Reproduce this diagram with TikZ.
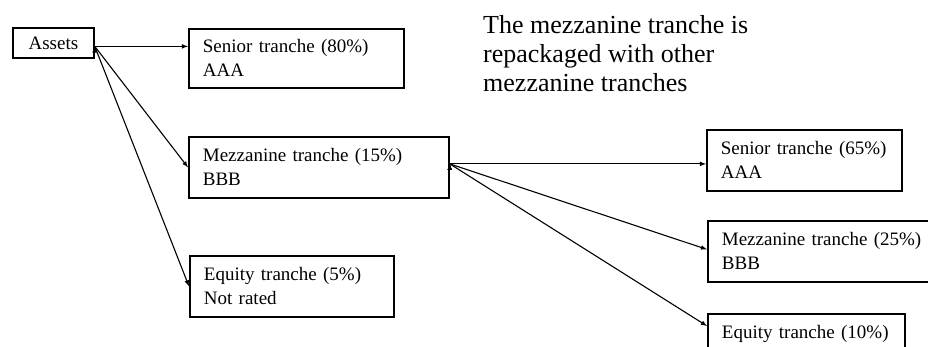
\documentclass[tikz,border=0pt]{standalone}
\usepackage{fontspec}
\setmainfont{Liberation Serif}

\begin{document}
\begin{tikzpicture}[x=1pt, y=-1pt,
    tranche/.style={draw, line width=1.8pt, anchor=north west, align=left, inner xsep=14pt,
        minimum height=61pt, font=\fontsize{19}{24}\selectfont},
    arr/.style={-latex, line width=1.1pt}]
	\useasboundingbox (0,0) rectangle (928,347);
	\clip (0,0) rectangle (928,347);
	%left side: the first deal
    \node[tranche, minimum height=30pt, inner xsep=0pt, minimum width=81pt, align=center] (assets) at (12,27) {Assets};
    \node[tranche, minimum height=59pt, text width=187pt] (senior) at (188,28) {Senior tranche (80\%)\\AAA};
    \node[tranche, text width=232pt] (mezz) at (188,136) {Mezzanine tranche (15\%)\\BBB};
    \node[tranche, text width=176pt] (equity) at (189,255) {Equity tranche (5\%)\\Not rated};
    %right side: the mezzanine tranche repackaged
    \node[tranche, text width=167pt] (senior2) at (706,129) {Senior tranche (65\%)\\AAA};
    \node[tranche, text width=212pt] (mezz2) at (707,220) {Mezzanine tranche (25\%)\\BBB};
    \node[tranche, text width=169pt] (equity2) at (707,313) {Equity tranche (10\%)\\\mbox{}};
    \node[anchor=north west, align=left, inner sep=0pt, font=\fontsize{26}{29}\selectfont] (note) at (483,15)
        {The mezzanine tranche is\\repackaged with other\\mezzanine tranches};
    \coordinate (a0) at ([yshift=-3.5pt]assets.east);
    \coordinate (m0) at ([yshift=3.5pt]mezz.east);
    \coordinate (e2) at ([yshift=-13pt]equity2.north west);
	\draw[arr] (a0) edge (a0 -| senior.west);
	\draw[arr] (a0) edge (mezz.west);
	\draw[arr] (a0) edge (equity.west);
	\draw[arr] (m0) edge (m0 -| senior2.west);
	\draw[arr] (m0) edge ([yshift=2pt]mezz2.west);
	\draw[arr] (m0) edge (e2);
\end{tikzpicture}
\end{document}
